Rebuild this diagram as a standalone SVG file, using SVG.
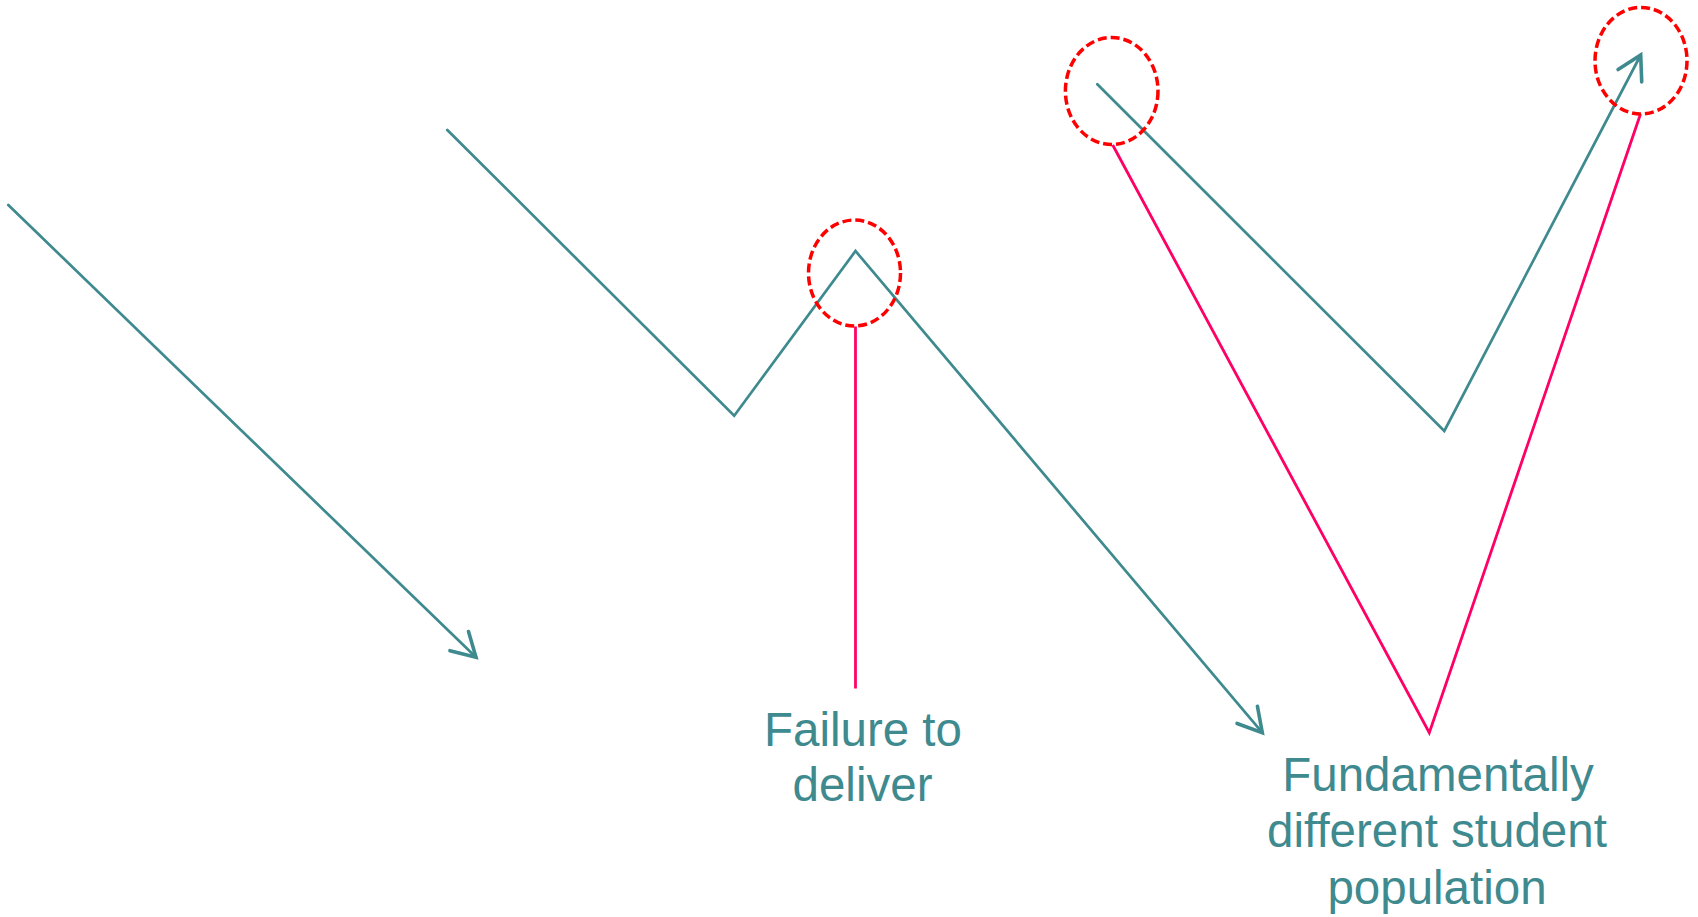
<svg xmlns="http://www.w3.org/2000/svg" width="1698" height="917" viewBox="0 0 1698 917">
<style>
.trend{fill:none;stroke:#3E8A8F;stroke-width:2.7;stroke-linejoin:miter;stroke-linecap:round}
.pink{fill:none;stroke:#FF0066;stroke-width:2.8}
.ring{fill:none;stroke:#FF0000;stroke-width:3.5;stroke-dasharray:9 4}
.lbl{font-family:"Liberation Sans",Arial,sans-serif;font-size:47.5px;fill:#3E8A8F;text-anchor:middle}
</style>
<defs>
<marker id="arr" markerUnits="userSpaceOnUse" markerWidth="40" markerHeight="40" viewBox="-25 -15 30 30" refX="0" refY="0" orient="auto" overflow="visible">
<path d="M-17.5,-10 L0,0 L-17.5,10" fill="none" stroke="#3E8A8F" stroke-width="2.7" stroke-linecap="round" stroke-linejoin="miter"/>
</marker>
</defs>
<rect width="1698" height="917" fill="#FFFFFF"/>
<g id="connectors">
<path class="trend" d="M8.3,205 L476,657.3" marker-end="url(#arr)"/>
<path class="trend" d="M447.3,130 L734.2,415.8 L855.5,251 L1262.3,732.7" marker-end="url(#arr)"/>
<path class="trend" d="M1097.3,84.3 L1444.3,431 L1640.7,55" marker-end="url(#arr)"/>
<path class="pink" d="M855.5,326.5 L855.5,688.5"/>
<path class="pink" d="M1112.7,145 L1429.3,732.7 L1640.5,114"/>
</g>
<g id="ring-peak">
<ellipse class="ring" cx="854.5" cy="273" rx="46" ry="53"/>
</g>
<g id="ring-start">
<ellipse class="ring" cx="1111.7" cy="91" rx="46.3" ry="53.5"/>
</g>
<g id="ring-end">
<ellipse class="ring" cx="1641" cy="60.7" rx="46" ry="53.3"/>
</g>
<g id="label-failure">
<text class="lbl" x="863" y="746">Failure to</text>
<text class="lbl" x="862.5" y="801">deliver</text>
</g>
<g id="label-population">
<text class="lbl" x="1438" y="791">Fundamentally</text>
<text class="lbl" x="1437" y="847">different student</text>
<text class="lbl" x="1437" y="904">population</text>
</g>
</svg>
